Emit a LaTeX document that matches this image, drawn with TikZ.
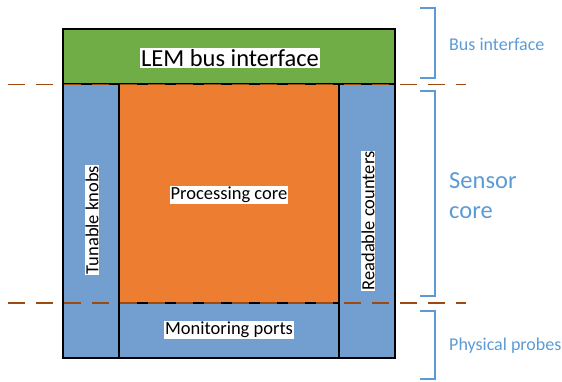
\documentclass[tikz,border=0pt]{standalone}
\usepackage{fontspec}
\setmainfont{Carlito}
\definecolor{busgreen}{HTML}{70AD47}
\definecolor{coreorange}{HTML}{ED7D31}
\definecolor{sideblue}{HTML}{729FCF}
\definecolor{bracketblue}{HTML}{5B9BD5}
\definecolor{splitbrown}{HTML}{9C4A12}
\tikzset{
  block/.style={draw=black, line width=1.5pt},
  tag/.style={fill=white, inner sep=1pt, text=black, font=\fontsize{18.5}{22}\selectfont},
  splitline/.style={draw=splitbrown, line width=1.8pt, dash pattern=on 17pt off 11pt},
  brace/.style={draw=bracketblue, line width=1.5pt},
  bracetext/.style={text=bracketblue, anchor=west, align=left, inner sep=0pt, font=\fontsize{18}{20}\selectfont}
}
\begin{document}
\begin{tikzpicture}[x=1pt,y=-1pt]
\useasboundingbox (0,0) rectangle (562,381);
% blocks
\draw[block, fill=busgreen] (63,29) rectangle (395,84);
\draw[block, fill=sideblue] (63,84) rectangle (119,358);
\draw[block, fill=sideblue] (339,84) rectangle (395,358);
\draw[block, fill=coreorange] (119,84) rectangle (339,303);
\draw[block, fill=sideblue] (119,303) rectangle (339,358);
% block labels
\node[tag, font=\fontsize{24.5}{28}\selectfont] (lem) at (230,58) {LEM bus interface};
\node[tag] (proc) at (229,195) {Processing core};
\node[tag, rotate=90] (knobs) at (92,220) {Tunable knobs};
\node[tag, rotate=90] (counters) at (368,221) {Readable counters};
\node[tag] (mon) at (229,330) {Monitoring ports};
% layer separators
\draw[splitline] (8,84.5) -- (466,84.5);
\draw[splitline] (8,303) -- (466,303);
% side brackets
\draw[brace] (420,8) -- (435,8) -- (435,78) -- (420,78);
\draw[brace] (420,91) -- (435,91) -- (435,296) -- (420,296);
\draw[brace] (420,311) -- (435,311) -- (435,379) -- (420,379);
\node[bracetext] (bus) at (449,44) {Bus interface};
\node[bracetext, font=\fontsize{24.5}{30}\selectfont] (sensor) at (449,196) {Sensor\\core};
\node[bracetext] (probes) at (449,346) {Physical probes};
\end{tikzpicture}
\end{document}
